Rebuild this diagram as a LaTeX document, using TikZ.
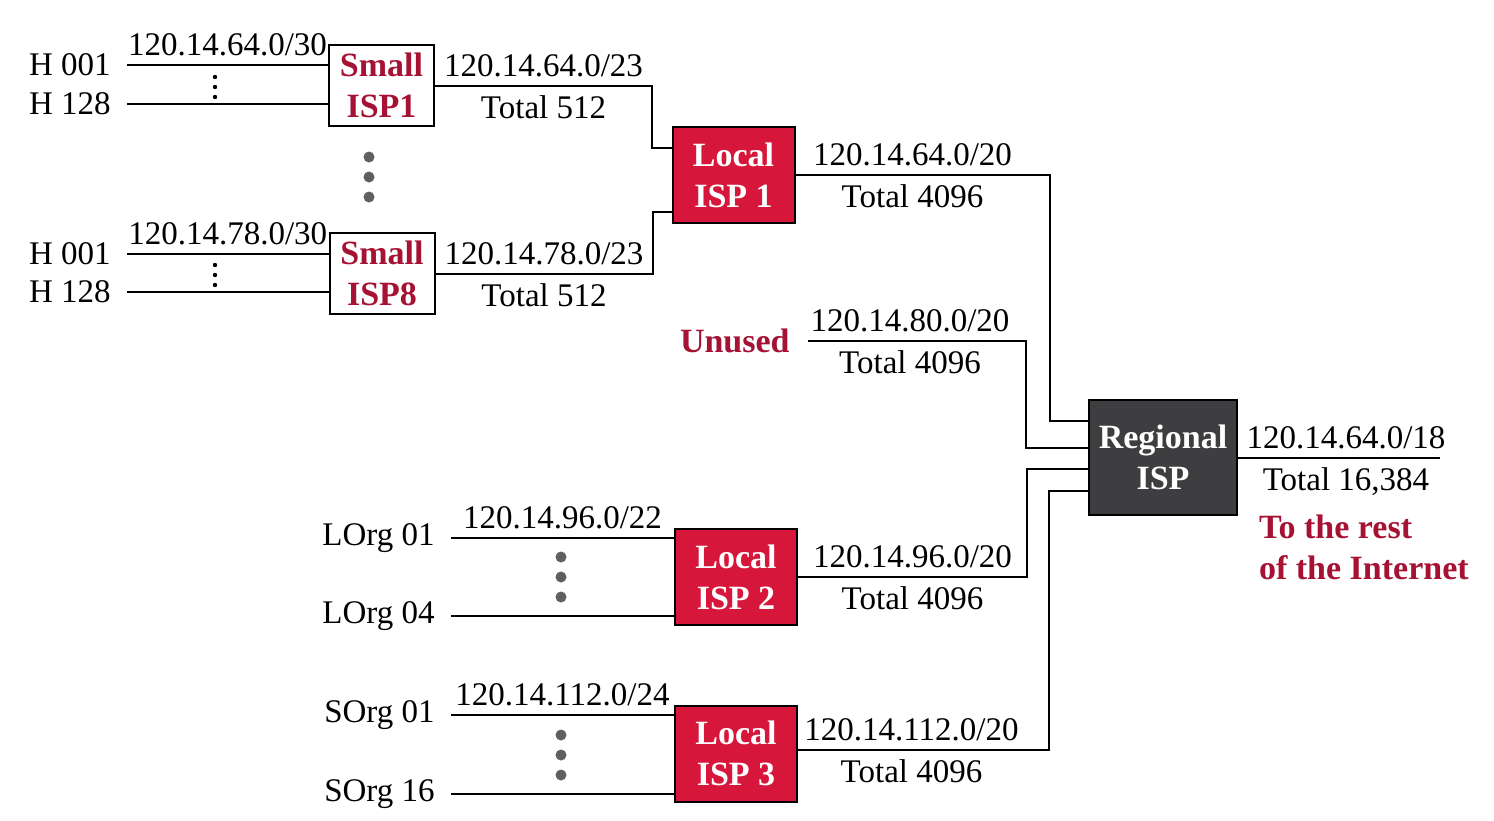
\documentclass[tikz,border=0pt]{standalone}
\usepackage{fontspec}
\setmainfont{Liberation Serif}
\usetikzlibrary{positioning,calc}

\definecolor{ispred}{RGB}{214,22,58}
\definecolor{textred}{RGB}{165,18,52}
\definecolor{regiongray}{RGB}{62,62,64}
\definecolor{dotgray}{RGB}{95,95,95}

\tikzset{
  boxfont/.style={font=\bfseries\fontsize{17}{20.5}\selectfont, align=center, inner sep=0pt},
  smallisp/.style={boxfont, draw, line width=1pt, fill=white, text=textred,
    minimum width=52.5pt, minimum height=40.5pt},
  localisp/.style={boxfont, draw, line width=1pt, fill=ispred, text=white,
    minimum width=61pt, minimum height=48pt},
  regionisp/.style={boxfont, draw, line width=1pt, fill=regiongray, text=white,
    minimum width=74pt, minimum height=57.5pt},
  host/.style={font=\fontsize{16.5}{20}\selectfont, inner xsep=8pt},
  addr/.style={font=\fontsize{16.5}{20}\selectfont},
  addrup/.style={addr, above, inner sep=4pt},
  addrdown/.style={addr, below, inner sep=4.5pt},
  redlabel/.style={font=\bfseries\fontsize{17}{20.5}\selectfont, text=textred},
  link/.style={line width=1pt},
  bigdot/.style={fill=dotgray},
}

\begin{document}
\begin{tikzpicture}[x=0.5pt, y=-0.5pt]
  \path[fill=white, use as bounding box] (0,0) rectangle (1494,820);

  % ISP boxes
  \node[smallisp] (sisp1) at (381.5,85.5) {Small\\ISP1};
  \node[smallisp] (sisp8) at (382,273.5) {Small\\ISP8};
  \node[localisp] (lisp1) at (733.5,175) {Local\\ISP 1};
  \node[localisp] (lisp2) at (736,577) {Local\\ISP 2};
  \node[localisp] (lisp3) at (736,753.5) {Local\\ISP 3};
  \node[regionisp] (risp) at (1163,457.5) {Regional\\ISP};

  % customers
  \node[host, anchor=east] (h1a) at (127,65) {H 001};
  \node[host, anchor=east] (h1b) at (127,104) {H 128};
  \node[host, anchor=east] (h8a) at (127,254) {H 001};
  \node[host, anchor=east] (h8b) at (127,292) {H 128};
  \node[host, anchor=east] (lorga) at (451,538) {LOrg 01};
  \node[host, anchor=east] (lorgb) at (451,616) {LOrg 04};
  \node[host, anchor=east] (sorga) at (451,715) {SOrg 01};
  \node[host, anchor=east] (sorgb) at (451,794) {SOrg 16};
  \node[redlabel, anchor=east, inner xsep=9pt] (unused) at (808,341) {Unused};

  \draw[link] (h1a.east) -- (h1a -| sisp1.west) node[midway, addrup] {120.14.64.0/30};
  \draw[link] (h1b.east) -- (h1b -| sisp1.west);
  \draw[link] (h8a.east) -- (h8a -| sisp8.west) node[midway, addrup] {120.14.78.0/30};
  \draw[link] (h8b.east) -- (h8b -| sisp8.west);
  \draw[link] (lorga.east) -- (lorga -| lisp2.west) node[midway, addrup] {120.14.96.0/22};
  \draw[link] (lorgb.east) -- (lorgb -| lisp2.west);
  \draw[link] (sorga.east) -- (sorga -| lisp3.west) node[midway, addrup] {120.14.112.0/24};
  \draw[link] (sorgb.east) -- (sorgb -| lisp3.west);

  % dots
  \foreach \y in {77,87,97} \fill (215,\y) circle (2.2);
  \foreach \y in {265,275,285} \fill (215,\y) circle (2.2);
  \foreach \y in {157,177,197} \fill[bigdot] (369,\y) circle (5.5);
  \foreach \y in {557,577,597} \fill[bigdot] (561,\y) circle (5.5);
  \foreach \y in {735,755,775} \fill[bigdot] (561,\y) circle (5.5);

  % aggregation
  \draw[link] (sisp1.east) -- node[addrup] {120.14.64.0/23} node[addrdown] {Total 512}
    ++(217,0) |- ($(lisp1.west)+(0,-27)$);
  \draw[link] (sisp8.east) -- node[addrup] {120.14.78.0/23} node[addrdown] {Total 512}
    ++(217,0) |- ($(lisp1.west)+(0,37)$);
  \draw[link] (lisp1.east) -- node[addrup, xshift=-5pt] {120.14.64.0/20} node[addrdown, xshift=-5pt] {Total 4096}
    ++(254,0) |- ($(risp.west)+(0,-37)$);
  \draw[link] (unused.east) -- node[addrup, xshift=-3.5pt] {120.14.80.0/20} node[addrdown, xshift=-3.5pt] {Total 4096}
    ++(218,0) |- ($(risp.west)+(0,-10)$);
  \draw[link] (lisp2.east) -- node[addrup] {120.14.96.0/20} node[addrdown] {Total 4096}
    ++(229,0) |- ($(risp.west)+(0,11)$);
  \draw[link] ($(lisp3.east)+(0,-4)$) -- node[addrup, xshift=-6pt] {120.14.112.0/20} node[addrdown, xshift=-6pt] {Total 4096}
    ++(251,0) |- ($(risp.west)+(0,33)$);

  \coordinate (internet) at (1440,457.5);
  \draw[link] (risp.east) -- node[addrup, xshift=3.5pt] {120.14.64.0/18} node[addrdown, xshift=3.5pt] {Total 16,384} (internet);
  \node[redlabel, align=left, anchor=north west] (rest) at (1252,508) {To the rest\\of the Internet};
\end{tikzpicture}
\end{document}
